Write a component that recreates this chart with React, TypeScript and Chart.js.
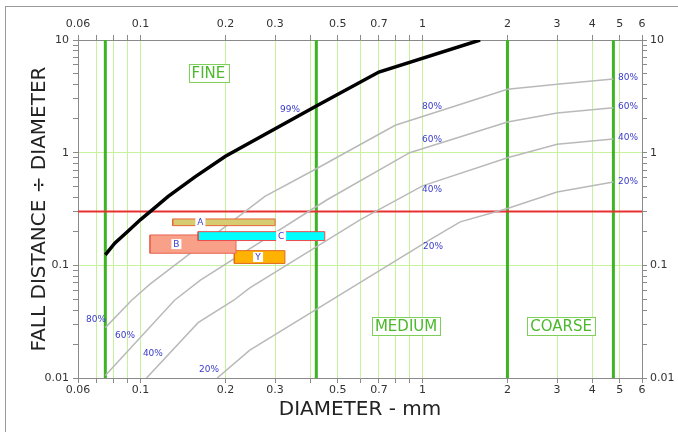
import React, { useEffect, useRef } from 'react';
import { Chart, registerables } from 'chart.js';

Chart.register(...registerables);

// ---- axis extents and ticks ----
const X_MIN = 0.06;
const X_MAX = 6;
const Y_MIN = 0.01;
const Y_MAX = 10;

const xTickValues = [0.06, 0.07, 0.08, 0.09, 0.1, 0.2, 0.3, 0.4, 0.5, 0.6, 0.7, 0.8, 0.9, 1, 2, 3, 4, 5, 6];
const xTickLabels = ['0.06', '', '', '', '0.1', '0.2', '0.3', '', '0.5', '', '0.7', '', '', '1', '2', '3', '4', '5', '6'];

const yTickValues = [
  0.01, 0.02, 0.03, 0.04, 0.05, 0.06, 0.07, 0.08, 0.09,
  0.1, 0.2, 0.3, 0.4, 0.5, 0.6, 0.7, 0.8, 0.9,
  1, 2, 3, 4, 5, 6, 7, 8, 9, 10,
];
const yLabelled = [0.01, 0.1, 1, 10];
const yGridValues = [0.1, 1];

// ---- size-class boundaries (dark green) and limit (red) ----
const boundaryDiameters = [0.075, 0.42, 2, 4.75];
const limitRatio = 0.3;

// ---- curves: [diameter, ratio] ----
const curve99 = [
  [0.075, 0.124], [0.081, 0.157], [0.09, 0.2], [0.1, 0.255], [0.11, 0.31],
  [0.125, 0.407], [0.156, 0.61], [0.2, 0.93], [0.42, 2.6], [0.7, 5.2], [1.6, 10],
];
const curve80 = [
  [0.075, 0.028], [0.093, 0.049], [0.108, 0.068], [0.276, 0.41], [0.42, 0.72],
  [0.8, 1.75], [2, 3.65], [3, 4.05], [4.75, 4.5],
];
const curve60 = [
  [0.075, 0.0105], [0.132, 0.049], [0.163, 0.074], [0.457, 0.38], [0.9, 1.0],
  [2, 1.87], [3, 2.25], [4.75, 2.5],
];
const curve40 = [
  [0.105, 0.01], [0.16, 0.031], [0.214, 0.049], [0.244, 0.063], [0.6, 0.253],
  [1.0, 0.507], [2, 0.9], [3, 1.19], [4.75, 1.32],
];
const curve20 = [
  [0.187, 0.01], [0.244, 0.0177], [1.06, 0.168], [1.36, 0.243], [2, 0.32],
  [3, 0.447], [4.75, 0.55],
];

// ---- sample bars ----
const barNames = ['A', 'C', 'B', 'Y'];
const barX0 = [0.13, 0.16, 0.108, 0.215];
const barX1 = [0.3, 0.45, 0.218, 0.325];
const barY0 = [0.225, 0.166, 0.128, 0.104];
const barY1 = [0.258, 0.199, 0.186, 0.135];
const barLabelX = [0.163, 0.315, 0.134, 0.261];
const barFill = ['#d8cc72', '#00ffff', '#f9a088', '#ffb300'];
const barEdge = ['#e8663a', '#ee4a4a', '#e86652', '#e06a1e'];

// ---- text annotations ----
const pctText = ['99%', '80%', '60%', '40%', '20%', '80%', '60%', '40%', '20%', '80%', '60%', '40%', '20%'];
const pctX = [0.339, 1.08, 1.08, 1.08, 1.09, 5.35, 5.35, 5.35, 5.35, 0.0695, 0.0881, 0.1106, 0.175];
const pctY = [2.39, 2.55, 1.3, 0.467, 0.146, 4.6, 2.55, 1.35, 0.55, 0.0328, 0.0236, 0.0164, 0.0118];

const zoneText = ['FINE', 'MEDIUM', 'COARSE'];
const zoneX = [0.174, 0.874, 3.1];
const zoneY = [5.1, 0.029, 0.029];

const FONT = '"DejaVu Sans", Verdana, sans-serif';
const LIGHT_GREEN = '#c6f29c';
const DARK_GREEN = '#3cb424';
const AXIS_GRAY = '#8a8a8a';

const toPts = (arr: number[][]) => arr.map(([x, y]) => ({ x, y }));

const annotationPlugin = {
  id: 'annotations',
  afterDatasetsDraw(chart: any) {
    const ctx = chart.ctx;
    const xs = chart.scales.x;
    const ys = chart.scales.y;
    ctx.save();
    // zone labels
    ctx.font = `15px ${FONT}`;
    ctx.textAlign = 'center';
    ctx.textBaseline = 'middle';
    zoneText.forEach((t, i) => {
      const px = xs.getPixelForValue(zoneX[i]);
      const py = ys.getPixelForValue(zoneY[i]);
      const w = ctx.measureText(t).width + 6;
      const h = 18;
      ctx.fillStyle = '#ffffff';
      ctx.fillRect(px - w / 2, py - h / 2, w, h);
      ctx.strokeStyle = '#7fd05a';
      ctx.lineWidth = 1;
      ctx.strokeRect(Math.round(px - w / 2) + 0.5, Math.round(py - h / 2) + 0.5, Math.round(w), h);
      ctx.fillStyle = '#4cb82c';
      ctx.fillText(t, px, py + 1);
    });
    // percent labels
    ctx.font = `9px ${FONT}`;
    ctx.fillStyle = '#3a3acc';
    pctText.forEach((t, i) => {
      ctx.fillText(t, xs.getPixelForValue(pctX[i]), ys.getPixelForValue(pctY[i]));
    });
    // bar letters
    ctx.font = `9px ${FONT}`;
    barNames.forEach((t, i) => {
      const px = xs.getPixelForValue(barLabelX[i]);
      const py = ys.getPixelForValue(Math.sqrt(barY0[i] * barY1[i]));
      ctx.fillStyle = '#ffffff';
      ctx.fillRect(px - 5, py - 5, 10, 10);
      ctx.fillStyle = '#3a3acc';
      ctx.fillText(t, px, py + 0.5);
    });
    ctx.restore();
  },
};

export default function App() {
  const canvasRef = useRef<HTMLCanvasElement | null>(null);

  useEffect(() => {
    if (!canvasRef.current) return;

    const datasets: any[] = [];

    barNames.forEach((name, i) => {
      datasets.push({
        label: 'bar ' + name,
        data: [
          { x: barX0[i], y: barY0[i] },
          { x: barX1[i], y: barY0[i] },
          { x: barX1[i], y: barY1[i] },
          { x: barX0[i], y: barY1[i] },
          { x: barX0[i], y: barY0[i] },
        ],
        fill: 'shape',
        backgroundColor: barFill[i],
        borderColor: barEdge[i],
        borderWidth: 1,
        pointRadius: 0,
        order: 0,
      });
    });

    datasets.push({
      label: '99%',
      data: toPts(curve99),
      borderColor: '#000000',
      borderWidth: 3.5,
      pointRadius: 0,
      fill: false,
      order: 1,
    });

    [curve80, curve60, curve40, curve20].forEach((c, i) => {
      datasets.push({
        label: ['80%', '60%', '40%', '20%'][i],
        data: toPts(c),
        borderColor: '#b9b9b9',
        borderWidth: 1.5,
        pointRadius: 0,
        fill: false,
        order: 2,
      });
    });

    datasets.push({
      label: 'limit',
      data: [{ x: X_MIN, y: limitRatio }, { x: X_MAX, y: limitRatio }],
      borderColor: '#e83030',
      borderWidth: 2,
      pointRadius: 0,
      fill: false,
      order: 3,
    });

    boundaryDiameters.forEach((d) => {
      datasets.push({
        label: 'boundary ' + d,
        data: [{ x: d, y: Y_MIN }, { x: d, y: Y_MAX }],
        borderColor: DARK_GREEN,
        borderWidth: 3,
        pointRadius: 0,
        fill: false,
        order: 4,
      });
    });

    const tickFont = { family: FONT, size: 11 };

    const xCommon = (position: string, isMain: boolean) => ({
      type: 'logarithmic',
      position,
      min: X_MIN,
      max: X_MAX,
      afterBuildTicks: (scale: any) => {
        scale.ticks = xTickValues.map((v) => ({ value: v }));
      },
      afterFit: (scale: any) => {
        scale.height = position === 'top' ? 40 : 54;
      },
      ticks: {
        autoSkip: false,
        maxRotation: 0,
        minRotation: 0,
        padding: position === 'top' ? 4 : 1,
        color: '#333333',
        font: tickFont,
        callback: (value: any) => {
          const idx = xTickValues.indexOf(Number(value));
          return idx >= 0 ? xTickLabels[idx] : '';
        },
      },
      grid: {
        drawOnChartArea: isMain,
        color: (c: any) => {
          const v = c.tick ? c.tick.value : null;
          if (v === X_MIN || v === X_MAX) return 'rgba(0,0,0,0)';
          return LIGHT_GREEN;
        },
        lineWidth: 1,
        tickColor: AXIS_GRAY,
        tickLength: 5,
      },
      border: { color: AXIS_GRAY, width: 1 },
      title: isMain
        ? {
            display: true,
            text: 'DIAMETER - mm',
            color: '#222222',
            font: { family: FONT, size: 20 },
            padding: { top: 0, bottom: 10 },
          }
        : { display: false },
    });

    const yCommon = (position: string, isMain: boolean) => ({
      type: 'logarithmic',
      position,
      min: Y_MIN,
      max: Y_MAX,
      afterBuildTicks: (scale: any) => {
        scale.ticks = yTickValues.map((v) => ({ value: v }));
      },
      afterFit: (scale: any) => {
        scale.width = position === 'left' ? 78 : 36;
      },
      ticks: {
        autoSkip: false,
        padding: position === 'left' ? 4 : 3,
        color: '#333333',
        font: tickFont,
        callback: (value: any) => {
          const v = Number(value);
          return yLabelled.indexOf(v) >= 0 ? String(v) : '';
        },
      },
      grid: {
        drawOnChartArea: isMain,
        color: (c: any) => {
          const v = c.tick ? c.tick.value : null;
          return yGridValues.indexOf(v) >= 0 ? LIGHT_GREEN : 'rgba(0,0,0,0)';
        },
        lineWidth: 1,
        tickColor: AXIS_GRAY,
        tickLength: 5,
      },
      border: { color: AXIS_GRAY, width: 1 },
      title: isMain
        ? {
            display: true,
            text: 'FALL DISTANCE ÷ DIAMETER',
            color: '#222222',
            font: { family: FONT, size: 20 },
            padding: { top: 28, bottom: 0 },
          }
        : { display: false },
    });

    const chart = new Chart(canvasRef.current, {
      type: 'line',
      data: { datasets },
      options: {
        responsive: false,
        animation: false,
        events: [],
        layout: { padding: 0 },
        plugins: {
          legend: { display: false },
          tooltip: { enabled: false },
          title: { display: false },
        },
        elements: { line: { tension: 0 } },
        scales: {
          x: xCommon('bottom', true),
          x2: xCommon('top', false),
          y: yCommon('left', true),
          y2: yCommon('right', false),
        } as any,
      },
      plugins: [annotationPlugin],
    } as any);

    return () => chart.destroy();
  }, []);

  return (
    <div
      style={{
        position: 'fixed',
        left: 0,
        top: 0,
        width: 678,
        height: 432,
        overflow: 'hidden',
        background: '#ffffff',
      }}
    >
      <canvas ref={canvasRef} width={678} height={432} style={{ display: 'block' }} />
      <div
        style={{
          position: 'absolute',
          left: 5,
          top: 6,
          width: 700,
          height: 460,
          border: '1px solid #9a9a9a',
          pointerEvents: 'none',
        }}
      />
    </div>
  );
}
